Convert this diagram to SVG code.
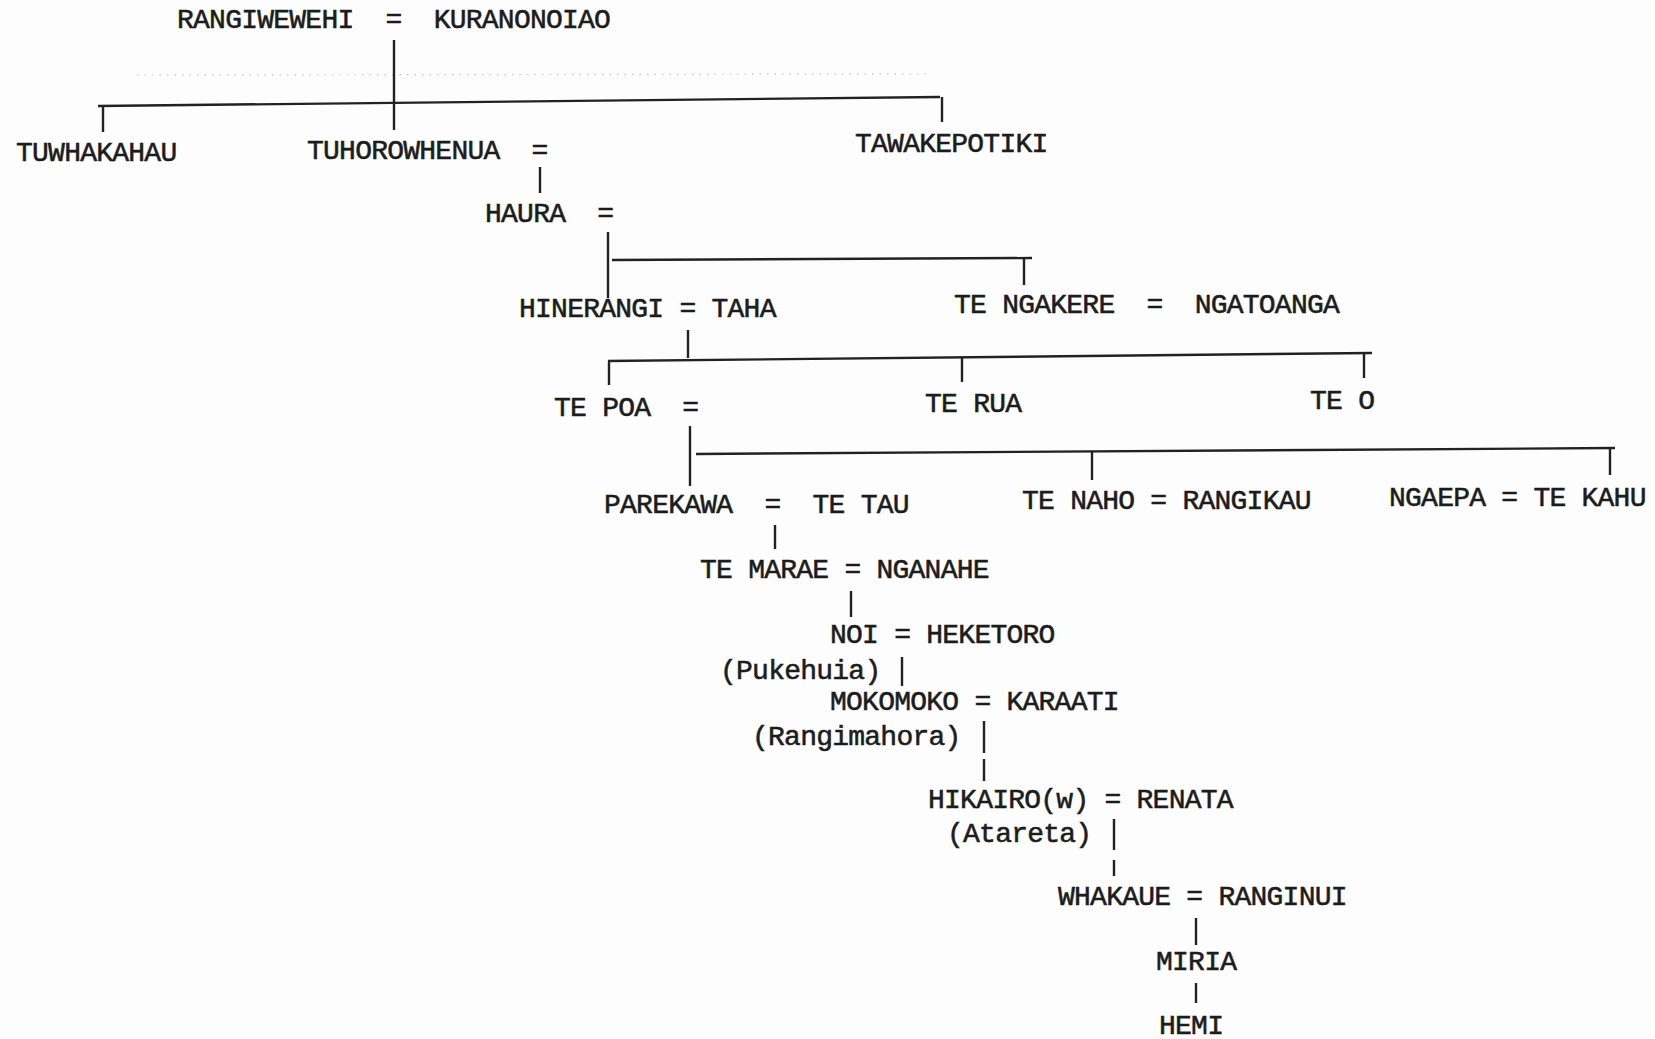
<svg xmlns="http://www.w3.org/2000/svg" width="1655" height="1039" viewBox="0 0 1655 1039">
<style>
text{font-family:"Liberation Mono","Courier New",monospace;font-size:28px;letter-spacing:-0.76px;fill:#1c1c1c;stroke:#1c1c1c;stroke-width:0.55px;white-space:pre}
.c line{stroke:#222;stroke-width:2.4;fill:none}
.c line.dot{stroke:#c4c4c4;stroke-width:1.2;stroke-dasharray:1.5 6}
</style>
<rect width="1655" height="1039" fill="#fdfdfd"/>
<g id="connectors" class="c">
<line class="dot" x1="137" y1="75" x2="929" y2="74"/>
<line x1="394" y1="40" x2="394" y2="130"/>
<line x1="98" y1="106" x2="940" y2="97"/>
<line x1="103" y1="106" x2="103" y2="132"/>
<line x1="942" y1="97" x2="942" y2="122"/>
<line x1="540" y1="167" x2="540" y2="193"/>
<line x1="608" y1="232" x2="608" y2="298"/>
<line x1="612" y1="260" x2="1032" y2="258"/>
<line x1="1024" y1="259" x2="1024" y2="285"/>
<line x1="688" y1="330" x2="688" y2="358"/>
<line x1="608" y1="361" x2="1372" y2="353"/>
<line x1="609" y1="361" x2="609" y2="385"/>
<line x1="962" y1="357" x2="962" y2="382"/>
<line x1="1364" y1="353" x2="1364" y2="378"/>
<line x1="690" y1="426" x2="690" y2="486"/>
<line x1="696" y1="454" x2="1615" y2="448"/>
<line x1="1092" y1="452" x2="1092" y2="480"/>
<line x1="1610" y1="448" x2="1610" y2="475"/>
<line x1="775" y1="525" x2="775" y2="549"/>
<line x1="851" y1="591" x2="851" y2="617"/>
<line x1="902" y1="657" x2="902" y2="686"/>
<line x1="984" y1="721" x2="984" y2="753"/>
<line x1="984" y1="759" x2="984" y2="781"/>
<line x1="1114" y1="819" x2="1114" y2="850"/>
<line x1="1114" y1="860" x2="1114" y2="876"/>
<line x1="1196" y1="918" x2="1196" y2="945"/>
<line x1="1196" y1="983" x2="1196" y2="1003"/>
</g>
<g id="n-rangiwewehi"><text x="177" y="28">RANGIWEWEHI  =  KURANONOIAO</text></g>
<g id="n-tuwhakahau"><text x="16" y="161">TUWHAKAHAU</text></g>
<g id="n-tuhorowhenua"><text x="307" y="159">TUHOROWHENUA  =</text></g>
<g id="n-tawakepotiki"><text x="855" y="152">TAWAKEPOTIKI</text></g>
<g id="n-haura"><text x="485" y="222">HAURA  =</text></g>
<g id="n-hinerangi"><text x="519" y="317">HINERANGI = TAHA</text></g>
<g id="n-tengakere"><text x="954" y="313">TE NGAKERE  =  NGATOANGA</text></g>
<g id="n-tepoa"><text x="554" y="416">TE POA  =</text></g>
<g id="n-terua"><text x="925" y="412">TE RUA</text></g>
<g id="n-teo"><text x="1310" y="409">TE O</text></g>
<g id="n-parekawa"><text x="604" y="513">PAREKAWA  =  TE TAU</text></g>
<g id="n-tenaho"><text x="1022" y="509">TE NAHO = RANGIKAU</text></g>
<g id="n-ngaepa"><text x="1389" y="506">NGAEPA = TE KAHU</text></g>
<g id="n-temarae"><text x="700" y="578">TE MARAE = NGANAHE</text></g>
<g id="n-noi"><text x="830" y="643">NOI = HEKETORO</text><text x="720" y="679">(Pukehuia)</text></g>
<g id="n-mokomoko"><text x="830" y="710">MOKOMOKO = KARAATI</text><text x="752" y="745">(Rangimahora)</text></g>
<g id="n-hikairo"><text x="928" y="808">HIKAIRO(w) = RENATA</text><text x="947" y="842">(Atareta)</text></g>
<g id="n-whakaue"><text x="1058" y="905">WHAKAUE = RANGINUI</text></g>
<g id="n-miria"><text x="1156" y="970">MIRIA</text></g>
<g id="n-hemi"><text x="1159" y="1034">HEMI</text></g>
</svg>
